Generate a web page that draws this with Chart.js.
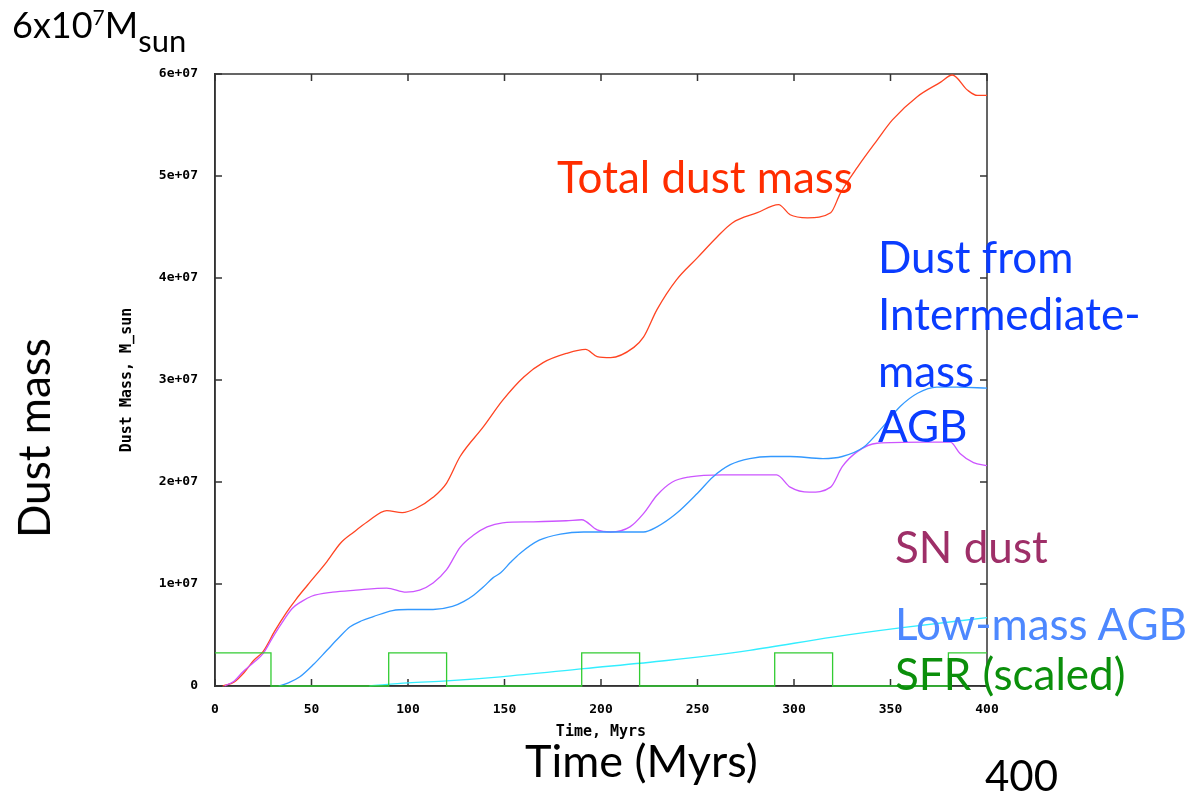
<!DOCTYPE html>
<html>
<head>
<meta charset="utf-8">
<script src="https://cdn.jsdelivr.net/npm/chart.js@4.4.1/dist/chart.umd.min.js"></script>
<style>
  html, body { margin: 0; padding: 0; background: #fff; }
  #wrap { position: relative; width: 1189px; height: 795px; overflow: hidden; }
  #chart { position: absolute; left: 0; top: 0; }
  .note { position: absolute; font-family: Lato, sans-serif; line-height: 1; white-space: nowrap; pointer-events: none; }
  .sup { font-size: 21px; position: relative; top: -13px; }
  .sub { font-size: 31px; position: relative; top: 14px; }
</style>
</head>
<body>
<div id="wrap">
  <canvas id="chart" width="1189" height="795"></canvas>
</div>
<script>
// ── Data (masses in units of 1e6 M_sun) ─────────
const totalTime = [4, 10, 15, 20, 25, 31, 37, 42, 48, 58, 65, 72, 79, 89, 97, 104, 113, 120, 127, 139,
                   149, 160, 170, 182, 192, 198, 205, 217, 222, 229, 239, 250, 260, 268, 281, 292, 298, 307, 319, 324,
                   333, 343, 351, 364, 376, 382, 390, 395, 400];
const totalMass = [0, 0.4, 1.3, 2.5, 3.4, 5.4, 7.2, 8.5, 9.9, 12.2, 14, 15.1, 16.1, 17.2, 17, 17.4, 18.5, 19.9, 22.5, 25.4,
                   28, 30.3, 31.7, 32.6, 33, 32.3, 32.2, 33.2, 34.2, 36.9, 39.8, 42, 44, 45.4, 46.4, 47.2, 46.2, 45.9, 46.4, 48.3,
                   50.9, 53.5, 55.5, 57.8, 59.2, 59.9, 58.4, 57.9, 57.9];

const snTime = [5, 10, 14.5, 20, 25, 30, 34, 40, 45, 50, 61, 73, 89, 99, 106, 113, 120, 127, 134, 141,
                149, 165, 182, 190, 198, 205, 215, 222, 229, 237, 246, 263, 291, 298, 308, 319, 325, 333, 343, 367,
                381, 386, 393, 400];
const snMass = [0, 0.5, 1.4, 2.3, 3.2, 4.8, 6.0, 7.6, 8.3, 8.8, 9.2, 9.4, 9.6, 9.2, 9.4, 10.1, 11.4, 13.6, 14.8, 15.6,
                16, 16.1, 16.2, 16.3, 15.3, 15.1, 15.6, 16.9, 18.7, 20, 20.5, 20.7, 20.7, 19.5, 19, 19.5, 21.5, 23, 23.8, 23.9,
                23.9, 22.8, 21.9, 21.6];

const imTime = [33, 38, 44, 51, 58, 64, 70, 76, 82, 92, 100, 113, 123, 129, 134, 139, 144, 148, 153, 158,
                168, 179, 191, 200, 210, 222, 229, 239, 250, 258, 267, 277, 288, 298, 315, 325, 336, 346, 355, 364,
                374, 385, 400];
const imMass = [0, 0.3, 0.9, 2.1, 3.5, 4.7, 5.8, 6.4, 6.8, 7.4, 7.5, 7.5, 7.8, 8.3, 8.9, 9.7, 10.6, 11.1, 12.1, 13,
                14.3, 14.9, 15.1, 15.1, 15.1, 15.1, 15.6, 16.9, 18.9, 20.5, 21.7, 22.3, 22.5, 22.5, 22.3, 22.5, 23.4, 25.4, 27.4, 28.7,
                29.3, 29.3, 29.2];

const lowTime = [80, 100, 120, 148, 191, 234, 277, 320, 355, 400];
const lowMass = [0, 0.3, 0.5, 0.9, 1.7, 2.5, 3.5, 4.8, 5.7, 6.7];

const sfrTime = [0, 29, 90, 120, 190, 220, 290, 320, 380, 400];
const sfrLevel = [3.25, 0, 3.25, 0, 3.25, 0, 3.25, 0, 3.25, 3.25];

const xTicks = [0, 50, 100, 150, 200, 250, 300, 350, 400];
const yTicks = [0, 10, 20, 30, 40, 50, 60];
const yTickLabels = ['0', '1e+07', '2e+07', '3e+07', '4e+07', '5e+07', '6e+07'];

// ── Helpers ─────────────────────────────────────
const pts = (xs, ys) => xs.map((x, i) => ({ x: x, y: ys[i] }));

function line(label, xs, ys, color, extra) {
  return Object.assign({
    label:       label,
    data:        pts(xs, ys),
    borderColor: color,
    borderWidth: 1.3,
    pointRadius: 0,
    fill:        false,
    cubicInterpolationMode: 'monotone',
    clip:        false,
  }, extra || {});
}

// gnuplot style box with inward ticks on all four sides
const framePlugin = {
  id: 'frame',
  beforeDatasetsDraw(chart) {
    const { ctx, chartArea: a, scales: { x, y } } = chart;
    ctx.save();
    ctx.strokeStyle = '#333';
    ctx.lineWidth   = 1.5;
    ctx.strokeRect(a.left, a.top, a.right - a.left, a.bottom - a.top);
    ctx.beginPath();
    xTicks.forEach(v => {
      const px = x.getPixelForValue(v);
      ctx.moveTo(px, a.bottom); ctx.lineTo(px, a.bottom - 7);
      ctx.moveTo(px, a.top);    ctx.lineTo(px, a.top + 7);
    });
    yTicks.forEach(v => {
      const py = y.getPixelForValue(v);
      ctx.moveTo(a.left, py);  ctx.lineTo(a.left + 7, py);
      ctx.moveTo(a.right, py); ctx.lineTo(a.right - 7, py);
    });
    ctx.stroke();
    ctx.restore();
  }
};

const tickFont  = { family: "'DejaVu Sans Mono', monospace", size: 13, weight: 'bold' };
const titleFont = { family: "'DejaVu Sans Mono', monospace", size: 15, weight: 'bold' };

// ── Chart ───────────────────────────────────────
new Chart(document.getElementById('chart'), {
  type: 'line',
  data: {
    datasets: [
      line('SFR (scaled)', sfrTime, sfrLevel, '#33cc33', { stepped: true }),
      line('Low-mass AGB', lowTime, lowMass, '#33eeff'),
      line('Intermediate-mass AGB', imTime, imMass, '#3399ff'),
      line('SN dust', snTime, snMass, '#cc55ff'),
      line('Total dust mass', totalTime, totalMass, '#ff4422'),
    ],
  },
  options: {
    responsive: false,
    animation:  false,
    layout: { padding: { left: 114, top: 74, right: 202, bottom: 50 } },
    plugins: { legend: { display: false }, tooltip: { enabled: false } },
    scales: {
      x: {
        type: 'linear', min: 0, max: 400,
        afterFit: s => { s.height = 59; },
        afterBuildTicks: s => { s.ticks = xTicks.map(v => ({ value: v })); },
        grid:   { display: false },
        border: { display: true, color: '#333', width: 1.5 },
        ticks:  { color: '#000', font: tickFont, padding: 8, maxRotation: 0 },
        title:  { display: true, text: 'Time, Myrs', color: '#000', font: titleFont },
      },
      y: {
        min: 0, max: 60,
        afterFit: s => { s.width = 101; },
        afterBuildTicks: s => { s.ticks = yTicks.map(v => ({ value: v })); },
        grid:   { display: false },
        border: { display: true, color: '#333', width: 1.5 },
        ticks:  { color: '#000', font: tickFont, padding: 9,
                  callback: v => yTickLabels[yTicks.indexOf(v)] },
        title:  { display: true, text: 'Dust Mass, M_sun', color: '#000', font: titleFont },
      },
    },
  },
  plugins: [framePlugin],
});

// ── Slide annotations ───────────────────────────
const wrap = document.getElementById('wrap');
function note(html, x, baseline, size, color, rotate) {
  const d = document.createElement('div');
  d.className = 'note';
  d.innerHTML = html;
  d.style.fontSize = size + 'px';
  d.style.color = color;
  d.style.left = x + 'px';
  d.style.top  = (baseline - 0.887 * size) + 'px';
  if (rotate) {
    d.style.transformOrigin = '0 ' + (0.887 * size) + 'px';
    d.style.transform = 'rotate(-90deg)';
  }
  wrap.appendChild(d);
}

note('6x10<span class="sup">7</span>M<span class="sub">sun</span>', 12, 38, 36, '#000');
note('Dust mass', 50, 538, 44, '#000', true);
note('Time (Myrs)', 525, 778, 45, '#000');
note('400', 985, 791, 42, '#000');
note('Total dust mass', 557, 193, 44, '#ff2d00');
note('Dust from', 878, 273, 44, '#0a3cff');
note('Intermediate-', 878, 330, 44, '#0a3cff');
note('mass', 878, 387, 44, '#0a3cff');
note('AGB', 878, 442, 44, '#0a3cff');
note('SN dust', 895, 563, 44, '#9e2f68');
note('Low-mass AGB', 895, 640, 44, '#4d88ff');
note('SFR (scaled)', 895, 690, 44, '#0b8f0b');
</script>
</body>
</html>
